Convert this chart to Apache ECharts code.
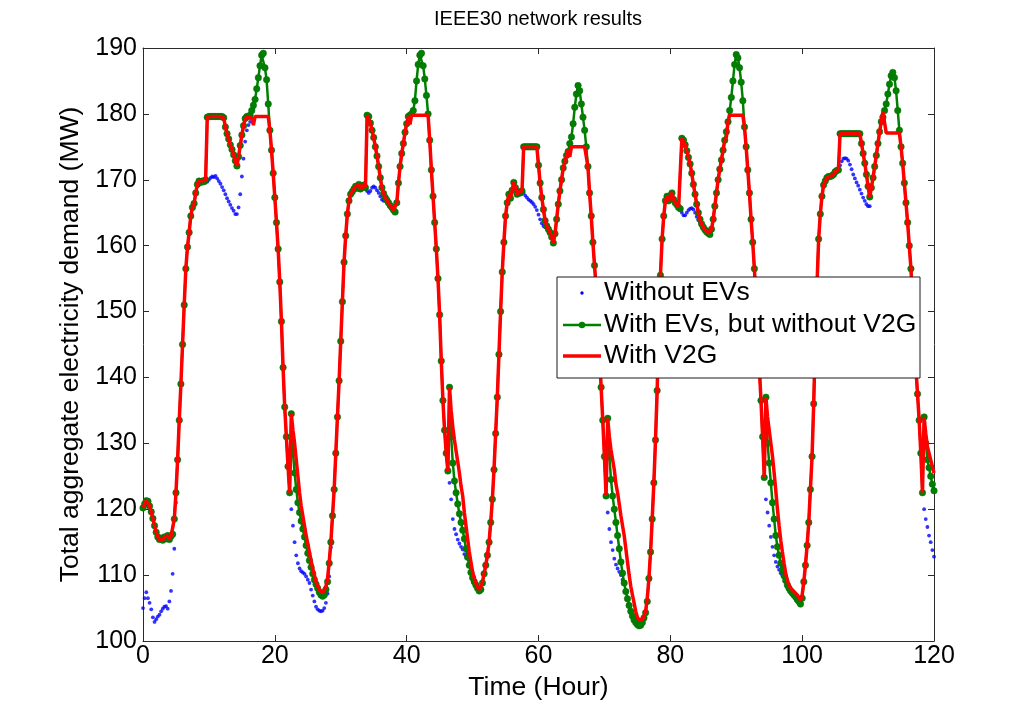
<!DOCTYPE html>
<html>
<head>
<meta charset="utf-8">
<script src="https://cdn.jsdelivr.net/npm/echarts@6/dist/echarts.min.js"></script>
<style>
  html, body { margin: 0; padding: 0; background: #ffffff; }
  #chart { width: 1012px; height: 713px; }
</style>
</head>
<body>
<div id="chart"></div>
<script>
// Sampling step of the demand profiles (hours between samples)
const STEP_HOURS = 0.25;

const xTickValues = [0, 20, 40, 60, 80, 100, 120];
const yTickValues = [100, 110, 120, 130, 140, 150, 160, 170, 180, 190];

const seriesNames = ['Without EVs', 'With EVs, but without V2G', 'With V2G'];

// Total aggregate demand (MW), one row per 4 hours
const demandNoEV = [
  105.0,106.5,107.4,106.5,105.8,104.8,103.6,102.9,103.3,103.7,104.0,104.5,104.9,105.2,105.3,104.9,
  106.0,107.6,110.2,114.0,121.0,127.5,133.5,139.0,145.0,151.0,156.5,159.8,162.0,164.5,165.8,166.4,
  168.0,169.3,169.8,169.6,169.8,169.7,170.0,169.7,170.0,170.3,170.5,170.4,170.6,170.2,169.8,169.4,
  168.9,168.4,167.8,167.2,166.7,166.2,165.7,165.3,164.8,164.8,165.8,167.8,170.5,173.2,175.8,177.5,
  178.3,178.8,179.3,180.8,182.2,183.8,185.5,187.3,188.9,189.2,187.0,185.2,181.5,177.5,174.5,171.0,
  167.3,163.5,159.5,154.5,148.5,141.5,135.5,131.0,126.5,122.5,120.0,117.5,115.0,113.0,111.8,111.0,
  110.6,110.4,110.2,109.8,109.3,108.8,107.8,106.9,106.0,105.2,104.8,104.6,104.5,104.6,105.0,105.8,
  107.2,109.8,114.2,119.0,123.0,128.5,134.0,139.5,145.5,151.5,157.5,161.5,164.8,166.8,167.8,168.2,
  168.6,169.0,168.7,169.3,168.6,168.9,169.2,168.8,168.3,168.0,168.3,168.8,169.0,168.8,168.4,168.0,
  167.5,167.0,166.8,167.0,166.9,166.5,166.1,165.8,165.4,165.1,166.5,169.5,172.0,174.0,175.5,177.2,
  178.5,179.6,179.8,180.0,180.5,182.0,185.0,187.5,188.9,189.2,187.3,185.3,182.8,180.0,176.0,171.5,
  167.5,163.5,159.5,155.0,149.5,142.5,136.5,132.0,128.5,125.8,124.0,121.5,118.5,117.0,116.2,115.4,
  114.8,114.3,113.9,113.2,112.8,112.7,111.5,110.4,109.6,109.0,108.5,108.0,107.6,107.8,108.8,110.2,
  111.5,113.0,115.0,118.0,121.5,126.0,131.5,137.0,143.5,150.0,156.0,160.5,164.5,166.5,167.8,167.2,
  168.4,169.6,168.8,167.8,168.2,168.0,168.3,168.0,167.6,167.3,167.0,166.8,166.6,166.3,165.9,165.4,
  164.7,164.0,163.4,163.0,162.8,163.0,162.5,162.0,161.3,160.4,161.8,164.0,166.3,168.3,170.0,171.8,
  172.8,173.7,174.3,175.5,176.5,178.5,181.0,183.0,184.3,183.5,181.5,179.5,177.5,175.0,172.0,168.0,
  164.5,160.5,157.0,153.5,149.0,144.0,138.5,133.5,128.0,122.0,119.5,117.0,115.0,113.8,112.5,111.6,
  111.0,110.5,110.0,109.3,108.8,107.5,106.4,105.4,104.5,103.8,103.2,102.8,102.5,102.3,102.4,102.8,
  103.5,104.3,106.0,109.5,113.5,118.5,124.0,130.5,138.0,147.0,155.5,161.0,164.5,166.8,167.5,166.8,
  167.6,168.0,167.0,166.5,166.2,165.8,165.6,165.0,164.6,164.6,165.0,165.4,165.6,165.7,165.5,165.0,
  164.4,163.9,163.5,163.3,162.8,162.4,162.1,161.9,161.7,162.5,164.0,166.0,168.0,170.0,171.6,173.0,
  174.5,176.0,177.3,178.8,180.5,182.5,185.0,187.5,189.0,188.5,187.0,184.8,182.0,178.0,175.0,171.5,
  168.0,164.0,160.5,156.5,152.0,147.0,141.5,136.5,131.0,124.8,121.5,119.5,117.5,115.8,114.3,113.0,
  112.0,111.3,110.8,110.3,110.0,109.7,109.2,108.5,108.0,107.6,107.3,107.0,106.7,106.3,106.0,105.6,
  106.5,109.0,111.5,114.5,118.0,123.0,128.0,136.0,146.0,154.0,161.0,164.8,167.5,169.2,169.8,170.3,
  170.5,170.5,170.6,170.8,171.2,171.4,171.5,172.2,172.8,173.2,173.3,173.2,172.9,172.3,171.6,170.8,
  170.2,169.6,169.1,168.5,167.9,167.3,166.8,166.3,166.0,166.0,168.8,170.3,172.0,173.7,175.5,177.3,
  178.8,179.5,180.5,181.5,183.0,184.5,185.8,186.3,185.5,183.5,180.5,177.5,175.0,172.5,169.5,166.5,
  163.5,160.0,156.5,152.0,147.0,141.5,137.5,133.5,128.5,122.5,120.0,118.5,117.3,116.0,115.0,113.8,
  112.8
];

const demandEV = [
  120.2,120.8,121.3,121.2,120.5,119.6,118.6,117.5,116.5,115.8,115.4,115.6,115.3,115.8,115.5,116.0,
  115.4,115.9,116.2,118.5,122.5,127.5,133.5,139.0,145.0,151.0,156.5,159.8,162.0,164.5,165.8,166.4,
  168.0,169.3,169.8,169.6,169.8,169.7,170.0,179.5,179.6,179.6,179.6,179.6,179.6,179.6,179.6,179.6,
  179.6,179.4,178.0,177.0,176.2,175.3,174.6,173.8,172.9,172.1,173.5,175.2,176.8,178.2,179.3,179.6,
  179.6,179.8,180.5,181.3,182.2,183.8,185.5,187.3,188.9,189.2,187.0,185.2,181.5,177.5,174.5,171.0,
  167.3,163.5,159.5,154.5,148.5,141.5,135.5,131.0,126.5,122.5,134.5,128.5,125.5,123.0,121.0,119.5,
  118.2,117.0,115.8,114.5,113.3,112.2,111.2,110.2,109.3,108.6,108.0,107.4,107.0,106.8,107.0,107.8,
  109.0,111.8,115.0,119.0,123.0,128.5,134.0,139.5,145.5,151.5,157.5,161.5,164.8,166.8,167.8,168.2,
  168.6,169.0,168.7,169.3,168.6,168.9,169.2,168.8,179.8,179.6,178.6,177.5,176.4,175.0,173.6,172.0,
  170.3,168.8,167.9,167.3,166.9,166.5,166.1,165.8,165.4,165.1,166.5,169.5,172.0,174.0,175.5,177.2,
  178.5,179.6,179.8,180.0,180.5,182.0,185.0,187.5,188.9,189.2,187.3,185.3,182.8,180.0,176.0,171.5,
  167.5,163.5,159.5,155.0,149.5,142.5,136.5,132.0,128.5,125.8,138.5,131.0,127.0,124.3,122.5,120.8,
  119.3,118.0,116.8,115.5,114.0,112.7,111.5,110.4,109.6,109.0,108.5,108.0,107.6,107.8,108.8,110.2,
  111.5,113.0,115.0,118.0,121.5,126.0,131.5,137.0,143.5,150.0,156.0,160.5,164.5,166.5,167.8,167.2,
  168.4,169.6,168.8,167.8,168.2,168.0,168.3,175.0,175.0,175.0,175.0,175.0,175.0,175.0,175.0,175.0,
  172.2,169.5,167.3,165.5,163.8,163.0,162.5,162.0,161.3,160.4,161.8,164.0,166.3,168.3,170.0,171.8,
  172.8,173.7,174.3,175.5,176.5,178.5,181.0,183.0,184.3,183.5,181.5,179.5,177.5,175.0,172.0,168.0,
  164.5,160.5,157.0,153.5,149.0,144.0,138.5,133.5,128.0,122.0,133.8,128.0,124.5,122.0,120.0,118.0,
  116.0,114.0,112.0,110.3,108.8,107.5,106.4,105.4,104.5,103.8,103.2,102.8,102.5,102.3,102.4,102.8,
  103.5,104.3,106.0,109.5,113.5,118.5,124.0,130.5,138.0,147.0,155.5,161.0,164.5,166.8,167.5,166.8,
  167.6,168.0,167.0,166.5,166.2,165.8,165.6,176.3,176.0,175.3,174.4,173.4,172.4,171.0,169.3,167.8,
  166.3,165.0,164.0,163.3,162.8,162.4,162.1,161.9,161.7,162.5,164.0,166.0,168.0,170.0,171.6,173.0,
  174.5,176.0,177.3,178.8,180.5,182.5,185.0,187.5,189.0,188.5,187.0,184.8,182.0,178.0,175.0,171.5,
  168.0,164.0,160.5,156.5,152.0,147.0,141.5,136.5,131.0,124.8,137.0,130.0,127.0,124.0,121.0,118.5,
  116.0,114.3,113.0,111.8,110.8,109.9,109.2,108.5,108.0,107.6,107.3,107.0,106.7,106.3,106.0,105.6,
  106.5,109.0,111.5,114.5,118.0,123.0,128.0,136.0,146.0,154.0,161.0,164.8,167.5,169.2,169.8,170.3,
  170.5,170.5,170.6,170.8,171.2,171.4,171.5,177.0,177.0,177.0,177.0,177.0,177.0,177.0,177.0,177.0,
  177.0,177.0,177.0,177.0,175.5,174.0,172.5,170.8,169.0,167.4,168.8,170.3,172.0,173.7,175.5,177.3,
  178.8,179.5,180.5,181.5,183.0,184.5,185.8,186.3,185.5,183.5,180.5,177.5,175.0,172.5,169.5,166.5,
  163.5,160.0,156.5,152.0,147.0,141.5,137.5,133.5,128.5,122.5,134.0,130.0,127.5,126.3,125.0,123.8,
  122.8
];

const demandV2G = [
  120.2,120.8,121.3,121.2,120.5,119.6,118.6,117.5,116.5,115.8,115.4,115.6,115.3,115.8,115.5,116.0,
  115.4,115.9,116.2,118.5,122.5,127.5,133.5,139.0,145.0,151.0,156.5,159.8,162.0,164.5,165.8,166.4,
  168.0,169.3,169.8,169.6,169.8,169.7,170.0,179.5,179.6,179.6,179.6,179.6,179.6,179.6,179.6,179.6,
  179.6,179.4,178.0,177.0,176.2,175.3,174.6,173.8,172.9,172.1,173.5,175.2,176.8,178.2,179.3,179.6,
  179.6,179.6,179.3,178.3,179.6,179.6,179.6,179.6,179.6,179.6,179.6,179.6,179.6,177.5,174.5,171.0,
  167.3,163.5,159.5,154.5,148.5,141.5,135.5,131.0,126.5,122.5,134.5,132.0,130.0,127.5,125.0,122.5,
  120.5,119.0,117.5,116.0,114.8,113.5,112.2,111.0,110.0,109.0,108.3,107.8,107.5,107.3,107.6,108.3,
  109.5,112.0,115.0,119.0,123.0,128.5,134.0,139.5,145.5,151.5,157.5,161.5,164.8,166.8,167.8,168.2,
  168.6,169.0,168.7,169.3,168.6,168.9,169.2,168.8,179.8,179.6,178.6,177.5,176.4,175.0,173.6,172.0,
  170.3,168.8,167.9,167.3,166.9,166.5,166.1,165.8,165.4,165.1,166.5,169.5,172.0,174.0,175.5,177.2,
  178.5,179.6,178.4,179.8,179.8,179.8,179.8,179.8,179.8,179.8,179.8,179.8,179.8,179.8,176.0,171.5,
  167.5,163.5,159.5,155.0,149.5,142.5,136.5,132.0,128.5,125.8,138.5,135.0,132.5,130.5,128.8,127.2,
  125.5,123.5,122.0,119.5,117.5,115.5,113.5,112.0,110.5,109.5,108.8,108.2,107.8,108.2,109.0,110.2,
  111.5,113.0,115.0,118.0,121.5,126.0,131.5,137.0,143.5,150.0,156.0,160.5,164.5,166.5,167.8,167.2,
  168.4,169.6,168.8,167.8,168.2,168.0,168.3,175.0,175.0,175.0,175.0,175.0,175.0,175.0,175.0,175.0,
  172.2,169.5,167.3,165.5,163.8,163.0,162.5,162.0,161.3,160.4,161.8,164.0,166.3,168.3,170.0,171.8,
  172.8,173.7,174.5,173.5,175.0,175.0,175.0,175.0,175.0,175.0,175.0,175.0,175.0,175.0,172.0,168.0,
  164.5,160.5,157.0,153.5,149.0,144.0,138.5,133.5,128.0,122.0,133.8,131.0,129.0,127.5,126.0,123.8,
  122.5,120.8,119.0,117.5,116.0,114.0,112.0,110.0,108.3,107.0,105.8,104.5,103.6,103.2,103.0,103.3,
  103.8,104.5,106.5,109.5,113.5,118.5,124.0,130.5,138.0,147.0,155.5,161.0,164.5,166.8,167.5,166.8,
  167.6,168.0,167.0,166.5,166.2,165.8,165.6,176.3,176.0,175.3,174.4,173.4,172.4,171.0,169.3,167.8,
  166.3,165.0,164.0,163.3,162.8,162.4,162.1,161.9,161.7,162.5,164.0,166.0,168.0,170.0,171.6,173.0,
  174.5,176.0,176.5,178.8,179.8,179.8,179.8,179.8,179.8,179.8,179.8,179.8,179.8,178.0,175.0,171.5,
  168.0,164.0,160.5,156.5,152.0,147.0,141.5,136.5,131.0,124.8,137.0,134.0,132.0,130.0,128.0,125.5,
  122.8,120.0,117.5,115.3,113.5,111.8,110.3,109.2,108.5,108.0,107.7,107.5,107.3,107.0,106.6,106.2,
  107.0,109.0,111.5,114.5,118.0,123.0,128.0,136.0,146.0,154.0,161.0,164.8,167.5,169.2,169.8,170.3,
  170.5,170.5,170.6,170.8,171.2,171.4,171.5,177.0,177.0,177.0,177.0,177.0,177.0,177.0,177.0,177.0,
  177.0,177.0,177.0,177.0,175.5,174.0,172.5,170.8,169.0,167.4,168.8,170.3,172.0,173.7,175.5,177.3,
  178.8,180.3,180.5,177.1,177.1,177.1,177.1,177.1,177.1,177.1,177.1,177.1,175.0,172.5,169.5,166.5,
  163.5,160.0,156.5,152.0,147.0,141.5,137.5,133.5,128.5,122.5,134.0,131.5,129.5,128.5,127.5,126.5,
  125.5
];

const FONT = '"Liberation Sans", Arial, Helvetica, sans-serif';
const AXIS_COLOR = '#2b2b2b';
const COLORS = { noEV: '#0000ff', ev: '#008000', v2g: '#ff0000' };
const TICK_FONT = 25;
const NAME_FONT = 26.5;

// Pair every sample with its time stamp (hours)
function withTime(values) {
  return values.map((v, i) => [i * STEP_HOURS, v]);
}

const xMin = xTickValues[0], xMax = xTickValues[xTickValues.length - 1];
const yMin = yTickValues[0], yMax = yTickValues[yTickValues.length - 1];

function xAxisDef(position, showLabels) {
  return {
    type: 'value', position: position, min: xMin, max: xMax,
    interval: xTickValues[1] - xTickValues[0],
    name: showLabels ? 'Time (Hour)' : '',
    nameLocation: 'middle', nameGap: 31,
    nameTextStyle: { fontFamily: FONT, fontSize: NAME_FONT, color: '#000' },
    axisLine: { show: true, onZero: false, lineStyle: { color: AXIS_COLOR, width: 1 } },
    axisTick: { show: true, inside: true, length: 6, lineStyle: { color: AXIS_COLOR } },
    axisLabel: { show: showLabels, fontFamily: FONT, fontSize: TICK_FONT, color: '#000', margin: 3 },
    splitLine: { show: false }
  };
}

function yAxisDef(position, showLabels) {
  return {
    type: 'value', position: position, min: yMin, max: yMax,
    interval: yTickValues[1] - yTickValues[0],
    name: showLabels ? 'Total aggregate electricity demand (MW)' : '',
    nameLocation: 'middle', nameGap: 50,
    nameTextStyle: { fontFamily: FONT, fontSize: NAME_FONT, color: '#000' },
    axisLine: { show: true, onZero: false, lineStyle: { color: AXIS_COLOR, width: 1 } },
    axisTick: { show: true, inside: true, length: 6, lineStyle: { color: AXIS_COLOR } },
    axisLabel: { show: showLabels, fontFamily: FONT, fontSize: TICK_FONT, color: '#000', margin: 6 },
    splitLine: { show: false }
  };
}

// Legend box drawn as shapes on top of the plot
const legendX = 557, legendY = 277, legendW = 363, legendH = 101;
const rowY = [293, 325, 356];
const sampleX0 = 563, sampleX1 = 601, textX = 604;
const LZ = 100;

const legendElements = [
  { type: 'rect', z: LZ, shape: { x: legendX, y: legendY, width: legendW, height: legendH },
    style: { fill: '#ffffff', stroke: '#1a1a1a', lineWidth: 1 } },
  { type: 'circle', z: LZ + 1, shape: { cx: (sampleX0 + sampleX1) / 2, cy: rowY[0], r: 1.7 },
    style: { fill: COLORS.noEV } },
  { type: 'line', z: LZ + 1, shape: { x1: sampleX0, y1: rowY[1], x2: sampleX1, y2: rowY[1] },
    style: { stroke: COLORS.ev, lineWidth: 2.5 } },
  { type: 'circle', z: LZ + 2, shape: { cx: (sampleX0 + sampleX1) / 2, cy: rowY[1], r: 3.2 },
    style: { fill: COLORS.ev } },
  { type: 'line', z: LZ + 1, shape: { x1: sampleX0, y1: rowY[2], x2: sampleX1, y2: rowY[2] },
    style: { stroke: COLORS.v2g, lineWidth: 3.5 } }
].concat(seriesNames.map((name, i) => ({
  type: 'text', z: LZ + 1, x: textX, y: rowY[i],
  style: { text: name, font: NAME_FONT + 'px ' + FONT, fill: '#000',
           textAlign: 'left', textVerticalAlign: 'middle' }
})));

const chart = echarts.init(document.getElementById('chart'), null, { renderer: 'canvas' });

chart.setOption({
  animation: false,
  backgroundColor: '#ffffff',
  grid: { left: 143, right: 78, top: 48, bottom: 72, containLabel: false },
  xAxis: [xAxisDef('bottom', true), xAxisDef('top', false)],
  yAxis: [yAxisDef('left', true), yAxisDef('right', false)],
  graphic: [
    { type: 'text', x: 538, y: 19, z: LZ,
      style: { text: 'IEEE30 network results', font: '20px ' + FONT, fill: '#000',
               textAlign: 'center', textVerticalAlign: 'middle' } }
  ].concat(legendElements),
  series: [
    {
      name: seriesNames[0], type: 'scatter',
      data: withTime(demandNoEV),
      symbol: 'circle', symbolSize: 3.8,
      itemStyle: { color: COLORS.noEV },
      z: 2
    },
    {
      name: seriesNames[1], type: 'line',
      data: withTime(demandEV),
      symbol: 'circle', symbolSize: 6.5, showSymbol: true,
      lineStyle: { color: COLORS.ev, width: 2.5 },
      itemStyle: { color: COLORS.ev, borderColor: '#0a6a0a', borderWidth: 0.5 },
      z: 3
    },
    {
      name: seriesNames[2], type: 'line',
      data: withTime(demandV2G),
      symbol: 'none',
      lineStyle: { color: COLORS.v2g, width: 3.5 },
      z: 4
    }
  ]
});
</script>
</body>
</html>
